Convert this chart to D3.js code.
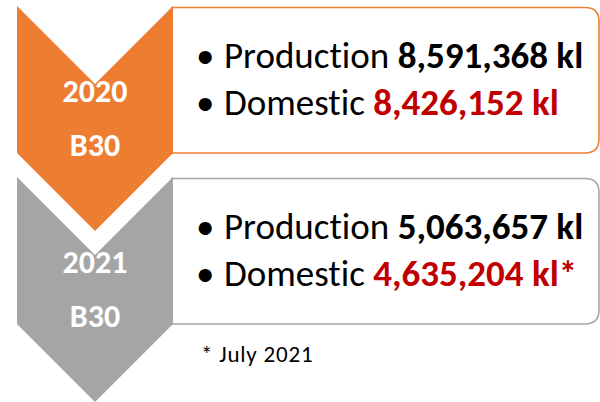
<!DOCTYPE html>
<html>
<head>
<meta charset="utf-8">
<script src="https://cdn.jsdelivr.net/npm/d3@7"></script>
<style>
  body { margin: 0; background: #fff; }
  svg { display: block; font-family: Carlito, Lato, "Open Sans", sans-serif; font-variant-ligatures: none; }
</style>
</head>
<body>
<div class="visHolder"></div>
<script>
var width = 600,
    height = 402;

// data
var years = ["2020", "2021"];
var blends = ["B30", "B30"];
var production = [8591368, 5063657];
var domestic = [8426152, 4635204];
var domesticMark = ["", "*"];
var footnote = "* July 2021";

var colors = ["#ED7D31", "#A5A5A5"];
var fmt = d3.format(",");

var svg = d3.select(".visHolder")
  .append("svg")
  .attr("width", width)
  .attr("height", height);

// one band per year
var yScale = d3.scaleBand()
  .domain(years)
  .range([6, 6 + 171 * years.length])
  .paddingInner(0);

var xL = 17, xR = 173, xM = (xL + xR) / 2, half = xM - xL;
var sideH = 147;

function chevron(y0) {
  return [
    [xL, y0], [xM, y0 + half], [xR, y0],
    [xR, y0 + sideH], [xM, y0 + sideH + half], [xL, y0 + sideH]
  ];
}

// box with rounded right corners
function box(y0) {
  var x0 = xR - 2, x1 = 599, y1 = y0 + 1.5, y2 = y0 + sideH, r = 14;
  return "M" + x0 + "," + y1 +
    "H" + (x1 - r) +
    "Q" + x1 + "," + y1 + " " + x1 + "," + (y1 + r) +
    "V" + (y2 - r) +
    "Q" + x1 + "," + y2 + " " + (x1 - r) + "," + y2 +
    "H" + x0;
}

var rows = svg.selectAll("g.row")
  .data(years)
  .enter()
  .append("g")
  .attr("class", "row");

rows.append("path")
  .attr("d", function (d) { return box(yScale(d)); })
  .attr("fill", "#fff")
  .attr("stroke", function (d, i) { return colors[i]; })
  .attr("stroke-width", 1.6);

rows.append("polygon")
  .attr("points", function (d) { return chevron(yScale(d)).join(" "); })
  .attr("fill", function (d, i) { return colors[i]; });

rows.append("text")
  .attr("x", xM)
  .attr("y", function (d) { return yScale(d) + 96; })
  .attr("text-anchor", "middle")
  .attr("fill", "#fff")
  .attr("font-weight", "bold")
  .attr("font-size", 32)
  .text(function (d) { return d; });

rows.append("text")
  .attr("x", xM)
  .attr("y", function (d) { return yScale(d) + 150; })
  .attr("text-anchor", "middle")
  .attr("fill", "#fff")
  .attr("font-weight", "bold")
  .attr("font-size", 32)
  .text(function (d, i) { return blends[i]; });

// bullet lines
var fs = 37;
var lineY = [62, 109];

lineY.forEach(function (ly) {
  rows.append("text")
    .attr("x", 196)
    .attr("y", function (d) { return yScale(d) + ly; })
    .attr("font-size", fs)
    .text("\u2022");
});

rows.append("text")
  .attr("x", 224)
  .attr("y", function (d) { return yScale(d) + lineY[0]; })
  .attr("font-size", fs)
  .attr("fill", "#000")
  .call(function (t) {
    t.append("tspan").text("Production ");
    t.append("tspan").attr("font-weight", "bold")
      .text(function (d, i) { return fmt(production[i]) + " kl"; });
  });

rows.append("text")
  .attr("x", 224)
  .attr("y", function (d) { return yScale(d) + lineY[1]; })
  .attr("font-size", fs)
  .attr("fill", "#000")
  .call(function (t) {
    t.append("tspan").text("Domestic ");
    t.append("tspan").attr("font-weight", "bold").attr("fill", "#C00000")
      .text(function (d, i) { return fmt(domestic[i]) + " kl" + domesticMark[i]; });
  });

svg.append("text")
  .attr("x", 201)
  .attr("y", 362)
  .attr("font-size", 23)
  .attr("letter-spacing", 0.8)
  .attr("fill", "#000")
  .text(footnote);
</script>
</body>
</html>
